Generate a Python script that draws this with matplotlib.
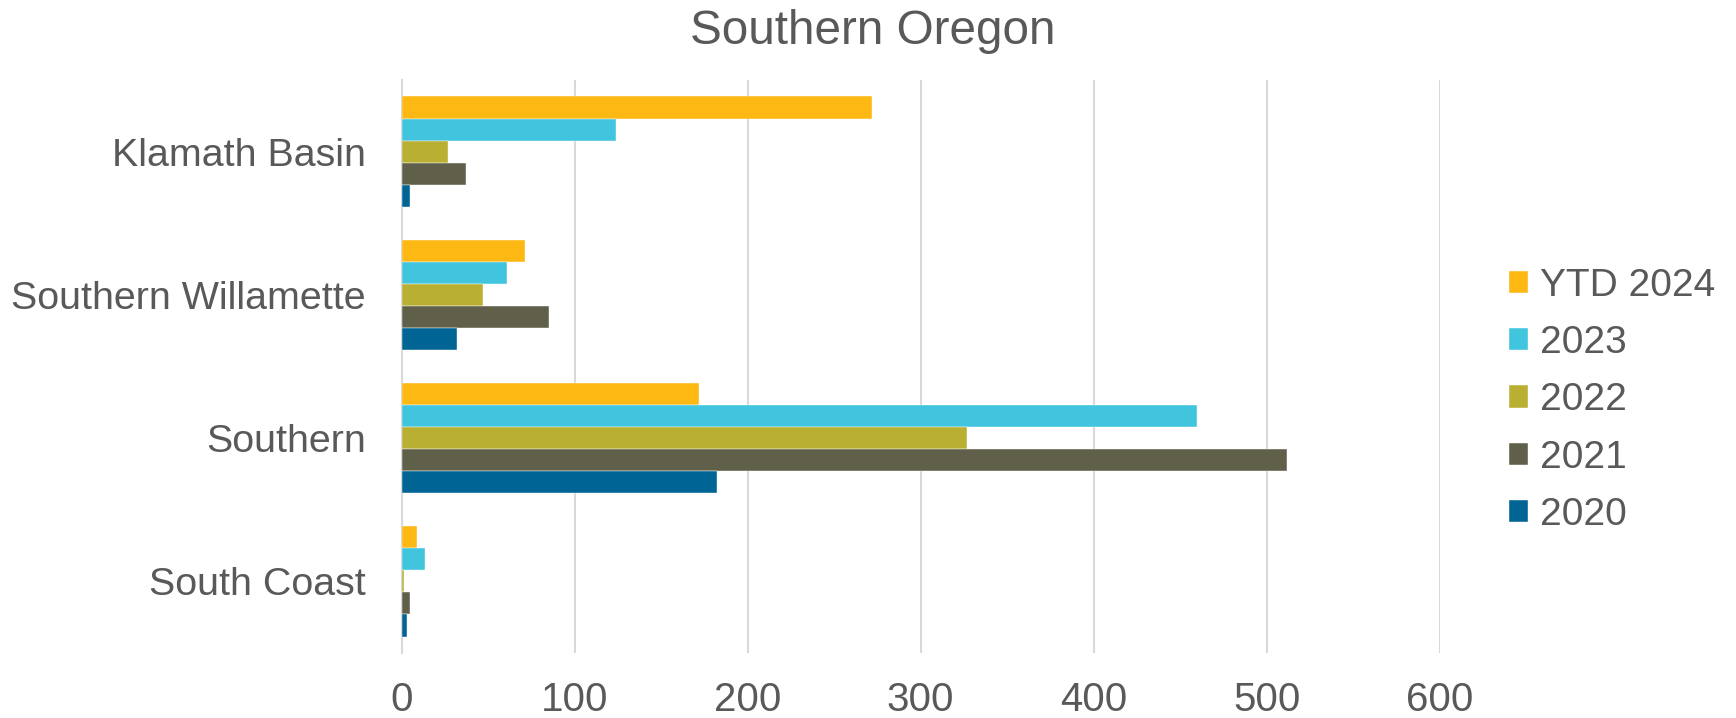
import numpy as np
import matplotlib
matplotlib.use("Agg")
import matplotlib.pyplot as plt

# data
regions = ["Klamath Basin", "Southern Willamette", "Southern", "South Coast"]
series = ["YTD 2024", "2023", "2022", "2021", "2020"]
ytd_2024 = [272, 71, 172, 9]
y2023 = [124, 61, 460, 13.5]
y2022 = [27, 47, 327, 1.5]
y2021 = [37, 85, 512, 5]
y2020 = [5, 32, 182, 3]
values = [ytd_2024, y2023, y2022, y2021, y2020]
colors = ["#FDB813", "#41C4DE", "#B9AF32", "#60604A", "#006494"]
x_ticks = [0, 100, 200, 300, 400, 500, 600]

text_color = "#595959"
plt.rcParams['font.family'] = ['Liberation Sans', 'DejaVu Sans']

fig = plt.figure(figsize=(17.36, 7.18), dpi=100)
ax = fig.add_axes([0.2314, 0.0905, 0.5979, 0.7981])

n_cat = len(regions)
n_ser = len(series)
bar_h = 0.77 / n_ser
centers = np.arange(n_cat)[::-1]  # Klamath Basin on top

for i, (name, vals, col) in enumerate(zip(series, values, colors)):
    offset = (n_ser - 1) / 2 * bar_h - i * bar_h
    ax.barh(centers + offset, vals, height=bar_h, color=col, label=name,
            edgecolor="white", linewidth=0.3, zorder=3)

ax.set_xlim(0, 600)
ax.set_ylim(-0.5, n_cat - 0.5)
ax.set_xticks(x_ticks)
ax.set_yticks(centers)
ax.set_yticklabels(regions)
ax.tick_params(axis='x', length=0, pad=20, labelsize=29, labelcolor=text_color)
ax.tick_params(axis='y', length=0, pad=26, labelsize=28.4, labelcolor=text_color)
ax.grid(axis='x', color="#D9D9D9", linewidth=1.5, zorder=0)
for s in ["top", "right", "bottom"]:
    ax.spines[s].set_visible(False)
ax.spines["left"].set_color("#D9D9D9")
ax.spines["left"].set_linewidth(1.5)

fig.text(0.503, 0.956, "Southern Oregon", ha='center', va='center',
         fontsize=34.3, color=text_color)

leg = fig.legend(loc='center left', bbox_to_anchor=(0.858, 0.4424),
                 frameon=False, fontsize=28, handlelength=0.5, handleheight=0.5,
                 handletextpad=0.3, labelspacing=0.55, borderpad=0)
for t in leg.get_texts():
    t.set_color(text_color)

fig.savefig("out.png", dpi=100)
